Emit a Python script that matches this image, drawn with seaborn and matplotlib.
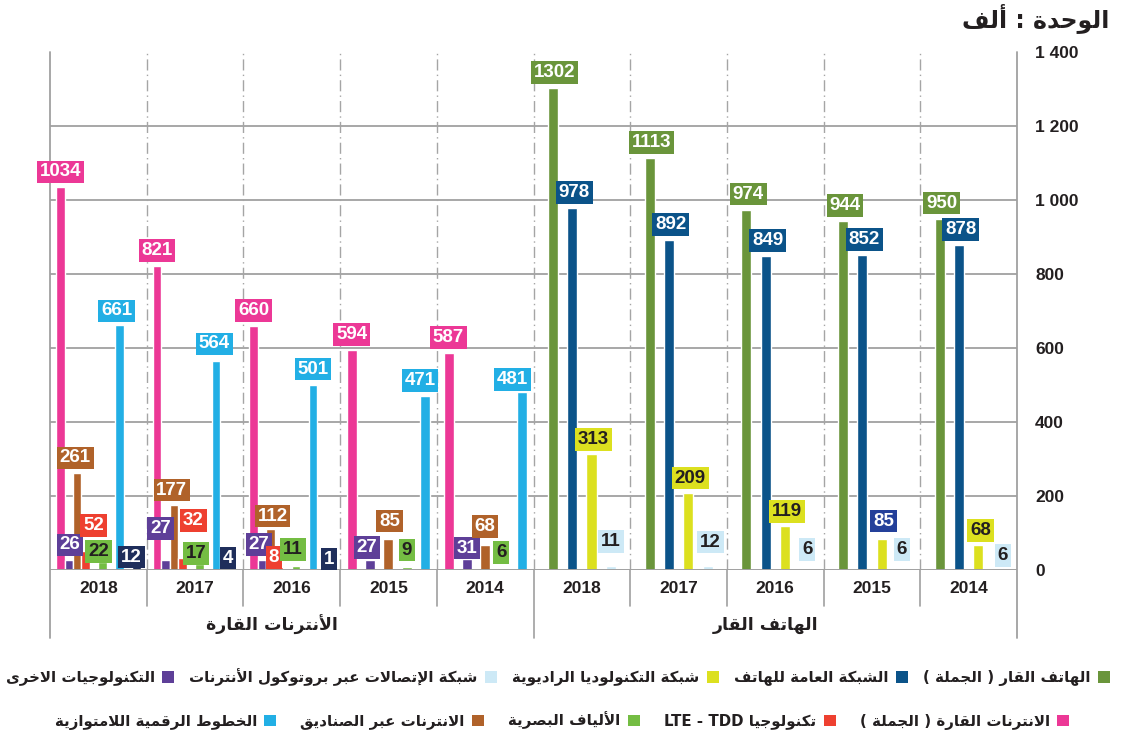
import re
import matplotlib
matplotlib.use("Agg")
import matplotlib.pyplot as plt
import matplotlib.transforms as mtransforms
from matplotlib.patches import Patch
import seaborn as sns
import pandas as pd
import numpy as np

years = ["2018", "2017", "2016", "2015", "2014"]

# الهاتف القار
phone_total = [1302, 1113, 974, 944, 950]
pstn = [978, 892, 849, 852, 878]
radio_net = [313, 209, 119, 85, 68]
voip_net = [11, 12, 6, 6, 6]

# الأنترنات القارة
internet_total = [1034, 821, 660, 594, 587]
other_tech = [26, 27, 27, 27, 31]
internet_box = [261, 177, 112, 85, 68]
lte_tdd = [52, 32, 8, np.nan, np.nan]
fiber = [22, 17, 11, 9, 6]
adsl = [661, 564, 501, 471, 481]
unnamed = [12, 4, 1, np.nan, np.nan]

group_titles = ["الأنترنات القارة", "الهاتف القار"]
unit_title = "الوحدة : ألف"

legend_names = {
    "phone_total": "الهاتف القار ( الجملة )",
    "pstn": "الشبكة العامة للهاتف",
    "radio": "شبكة التكنولوديا الراديوية",
    "voip": "شبكة الإتصالات عبر بروتوكول الأنترنات",
    "other": "التكنولوجيات الاخرى",
    "net_total": "الانترنات القارة ( الجملة )",
    "lte": "تكنولوجيا LTE - TDD",
    "fiber": "الألياف البصرية",
    "box": "الانترنات عبر الصناديق",
    "adsl": "الخطوط الرقمية اللامتوازية",
}

colors = {
    "phone_total": "#6A953B", "pstn": "#0B5389", "radio": "#DCE01F",
    "voip": "#CDE9F6", "other": "#5E3F98", "net_total": "#EC3896",
    "lte": "#EE4030", "fiber": "#74BD43", "box": "#B0622A",
    "adsl": "#22AFE5", "unnamed": "#1F2E5B",
}

# ---------- minimal arabic shaping (matplotlib has no bidi / joining) ----------
FORMS = {
    "آ": (0xFE81, False), "أ": (0xFE83, False), "ؤ": (0xFE85, False),
    "إ": (0xFE87, False), "ئ": (0xFE89, True), "ا": (0xFE8D, False),
    "ب": (0xFE8F, True), "ة": (0xFE93, False), "ت": (0xFE95, True),
    "ث": (0xFE99, True), "ج": (0xFE9D, True), "ح": (0xFEA1, True),
    "خ": (0xFEA5, True), "د": (0xFEA9, False), "ذ": (0xFEAB, False),
    "ر": (0xFEAD, False), "ز": (0xFEAF, False), "س": (0xFEB1, True),
    "ش": (0xFEB5, True), "ص": (0xFEB9, True), "ض": (0xFEBD, True),
    "ط": (0xFEC1, True), "ظ": (0xFEC5, True), "ع": (0xFEC9, True),
    "غ": (0xFECD, True), "ف": (0xFED1, True), "ق": (0xFED5, True),
    "ك": (0xFED9, True), "ل": (0xFEDD, True), "م": (0xFEE1, True),
    "ن": (0xFEE5, True), "ه": (0xFEE9, True), "و": (0xFEED, False),
    "ى": (0xFEEF, False), "ي": (0xFEF1, True),
}
LAM_ALEF = {"آ": 0xFEF5, "أ": 0xFEF7, "إ": 0xFEF9, "ا": 0xFEFB}


def _is_ar(c):
    return isinstance(c, tuple) or c in FORMS


def _joins_left(c):
    return (not isinstance(c, tuple)) and c in FORMS and FORMS[c][1]


def shape(text):
    chars, i = [], 0
    while i < len(text):
        if text[i] == "ل" and i + 1 < len(text) and text[i + 1] in LAM_ALEF:
            chars.append(("la", text[i + 1]))
            i += 2
        else:
            chars.append(text[i])
            i += 1
    out = []
    for j, c in enumerate(chars):
        prev = chars[j - 1] if j > 0 else None
        nxt = chars[j + 1] if j + 1 < len(chars) else None
        if not _is_ar(c):
            out.append(c)
            continue
        jp = prev is not None and _joins_left(prev)
        if isinstance(c, tuple):
            out.append(chr(LAM_ALEF[c[1]] + (1 if jp else 0)))
            continue
        base, dual = FORMS[c]
        jn = dual and nxt is not None and _is_ar(nxt)
        if dual and jp and jn:
            code = base + 3
        elif dual and jn:
            code = base + 2
        elif jp:
            code = base + 1
        else:
            code = base
        out.append(chr(code))
    return "".join(out)


def rtl(text):
    vis = shape(text)[::-1].translate(str.maketrans("()", ")("))
    return re.sub(r"[A-Za-z0-9][A-Za-z0-9 \-]*[A-Za-z0-9]",
                  lambda m: m.group(0)[::-1], vis)


# ---------- data frames ----------
slots = [f"net-{y}" for y in years] + [f"tel-{y}" for y in years]

tel_values = {"phone_total": phone_total, "pstn": pstn,
              "radio": radio_net, "voip": voip_net}
net_values = {"net_total": internet_total, "other": other_tech,
              "box": internet_box, "lte": lte_tdd, "fiber": fiber,
              "adsl": adsl, "unnamed": unnamed}

# cluster layouts: hue levels (with empty spacer levels), total width, gap
layouts = {
    "tel": (list(tel_values), 0.8, 0.48),
    "net_a": (["net_total", "other", "box", "lte", "gap1", "fiber", "gap2",
               "adsl", "gap3", "unnamed"], 0.875, 0.0),
    "net_b": (["net_total", "other", "box", "fiber", "adsl"], 0.946, 0.45),
}

rows = []
for lvl, vals in tel_values.items():
    for y, v in zip(years, vals):
        rows.append(("tel", f"tel-{y}", lvl, v))
for lvl, vals in net_values.items():
    for i, (y, v) in enumerate(zip(years, vals)):
        lay = "net_a" if not np.isnan(lte_tdd[i]) else "net_b"
        rows.append((lay, f"net-{y}", lvl, v))
df = pd.DataFrame(rows, columns=["layout", "slot", "series", "value"]).dropna()

sns.set_theme(style="white")
plt.rcParams["font.family"] = ["Liberation Sans", "DejaVu Sans"]
ink = "#231F20"
grid_c = "#8F8F8F"

fig = plt.figure(figsize=(11.21, 7.36), dpi=100)
ax = fig.add_axes([50 / 1121, 1 - 570 / 736, 967 / 1121, 518 / 736])

for lay, (levels, width, gap) in layouts.items():
    sns.barplot(data=df[df.layout == lay], x="slot", y="value", hue="series",
                order=slots, hue_order=levels,
                palette=[colors.get(k, "white") for k in levels],
                width=width, gap=gap, errorbar=None, legend=False,
                saturation=1, ax=ax, zorder=3)

ax.set_xlim(-0.5, len(slots) - 0.5)
ax.set_ylim(0, 1400)
for s in ax.spines.values():
    s.set_visible(False)

# grid + separators
for v in range(200, 1400, 200):
    ax.axhline(v, color=grid_c, lw=1.1, zorder=1)
ax.axhline(0, color="#A0A0A0", lw=1.4, zorder=4)
trans = mtransforms.blended_transform_factory(ax.transData, ax.transAxes)
for b in np.arange(-0.5, len(slots), 1.0):
    outer = b in (-0.5, len(slots) - 0.5)
    mid = b == 4.5
    if outer:
        ax.plot([b, b], [-0.131, 1.0], transform=trans, color="#A0A0A0",
                lw=1.3, clip_on=False, zorder=2)
    else:
        ax.plot([b, b], [0, 1.0], transform=trans, color="#A5A5A5", lw=1,
                ls=(0, (8, 3, 1, 3)), zorder=1)
        ax.plot([b, b], [-0.131 if mid else -0.07, 0], transform=trans,
                color="#A0A0A0", lw=1.2, clip_on=False)

# axis text
ax.yaxis.tick_right()
ax.set_yticks(range(0, 1401, 200))
ax.set_yticklabels([f"{v:,}".replace(",", " ") for v in range(0, 1401, 200)])
ax.set_xticks(range(len(slots)))
ax.set_xticklabels(years + years)
ax.tick_params(axis="y", length=0, pad=13, labelsize=12.5, labelcolor=ink)
ax.tick_params(axis="x", length=0, pad=8, labelsize=12.5, labelcolor=ink)
for t in ax.get_xticklabels() + ax.get_yticklabels():
    t.set_fontweight("bold")
for t in ax.get_yticklabels():
    t.set_horizontalalignment("left")
ax.set_xlabel("")
ax.set_ylabel("")
for g, gx in zip(group_titles, (1.8, 6.9)):
    ax.text(gx, -0.106, rtl(g), transform=trans, ha="center",
            va="center", fontsize=12.5, fontweight="bold", color=ink,
            family="DejaVu Sans")

# value labels
text_on = {"radio": ink, "voip": ink, "fiber": ink}
# (dx px, gap px above bar) per series, then per crowded label
label_pos = {"phone_total": (2, 4), "pstn": (2, 4), "radio": (2, 3),
             "voip": (2, 9)}
label_tweak = {
    ("net-2018", "other"): (1, 4), ("net-2018", "box"): (-2, 4),
    ("net-2018", "lte"): (8, 14), ("net-2018", "fiber"): (-4, -1),
    ("net-2018", "adsl"): (-3, 3), ("net-2018", "unnamed"): (-5, -3),
    ("net-2017", "other"): (-5, 20), ("net-2017", "box"): (-2, 3),
    ("net-2017", "lte"): (11, 26), ("net-2017", "fiber"): (-3, -1),
    ("net-2017", "unnamed"): (-5, -1), ("net-2017", "adsl"): (-2, 6),
    ("net-2016", "other"): (-3, 4), ("net-2016", "lte"): (-5, -2),
    ("net-2016", "box"): (2, 1), ("net-2016", "fiber"): (-3, 5),
    ("net-2016", "unnamed"): (-1, -1),
    ("net-2015", "other"): (-3, 1), ("net-2015", "box"): (1, 6),
    ("net-2015", "fiber"): (0, 5), ("net-2015", "adsl"): (-5, 4),
    ("net-2014", "other"): (0, -1), ("net-2014", "box"): (0, 7),
    ("net-2014", "fiber"): (-2, 4), ("net-2014", "adsl"): (-9, 1),
    ("tel-2018", "voip"): (0, 13), ("tel-2017", "voip"): (3, 12),
    ("tel-2016", "voip"): (3, 7), ("tel-2015", "voip"): (1, 7),
    ("tel-2015", "radio"): (2, 6), ("tel-2014", "voip"): (5, 1),
}
bg_override = {("tel-2015", "radio"): "#24409A"}


def dodge(level, levels, width):
    n = len(levels)
    k = levels.index(level)
    return (k + 0.5) * width / n - width / 2


for r in df.itertuples():
    levels, width, _ = layouts[r.layout]
    x = slots.index(r.slot) + dodge(r.series, levels, width)
    key = (r.slot, r.series)
    dx, gap = label_tweak.get(key, label_pos.get(r.series, (0, 4)))
    bg = bg_override.get(key, colors[r.series])
    fg = "white" if key in bg_override else text_on.get(r.series, "white")
    ax.annotate(f"{r.value:.0f}", xy=(x, r.value), xytext=(dx, gap + 3),
                textcoords="offset pixels", ha="center", va="bottom",
                fontsize=13.5, fontweight="bold", color=fg, zorder=6,
                bbox=dict(boxstyle="square,pad=0.15", fc=bg, ec="none"))

fig.text(0.99, 0.975, rtl(unit_title), ha="right", va="center",
         fontsize=17, fontweight="bold", color=ink, family="DejaVu Sans")

# legends, right to left
row1 = ["other", "voip", "radio", "pstn", "phone_total"]
row2 = ["adsl", "box", "fiber", "lte", "net_total"]
for keys, (xx, yy), spacing in ((row1, (0.990, 0.080), 1.0),
                                (row2, (0.954, 0.021), 1.6)):
    handles = [Patch(facecolor=colors[k], edgecolor="none") for k in keys]
    leg = fig.legend(handles, [rtl(legend_names[k]) for k in keys],
                     loc="center right", bbox_to_anchor=(xx, yy),
                     ncol=5, frameon=False, markerfirst=False, borderpad=0,
                     borderaxespad=0, handlelength=0.8, handleheight=0.8,
                     handletextpad=0.5, columnspacing=spacing,
                     prop=dict(family="DejaVu Sans", weight="bold", size=10.8))
    for t in leg.get_texts():
        t.set_color(ink)

fig.savefig("out.png", dpi=100)
